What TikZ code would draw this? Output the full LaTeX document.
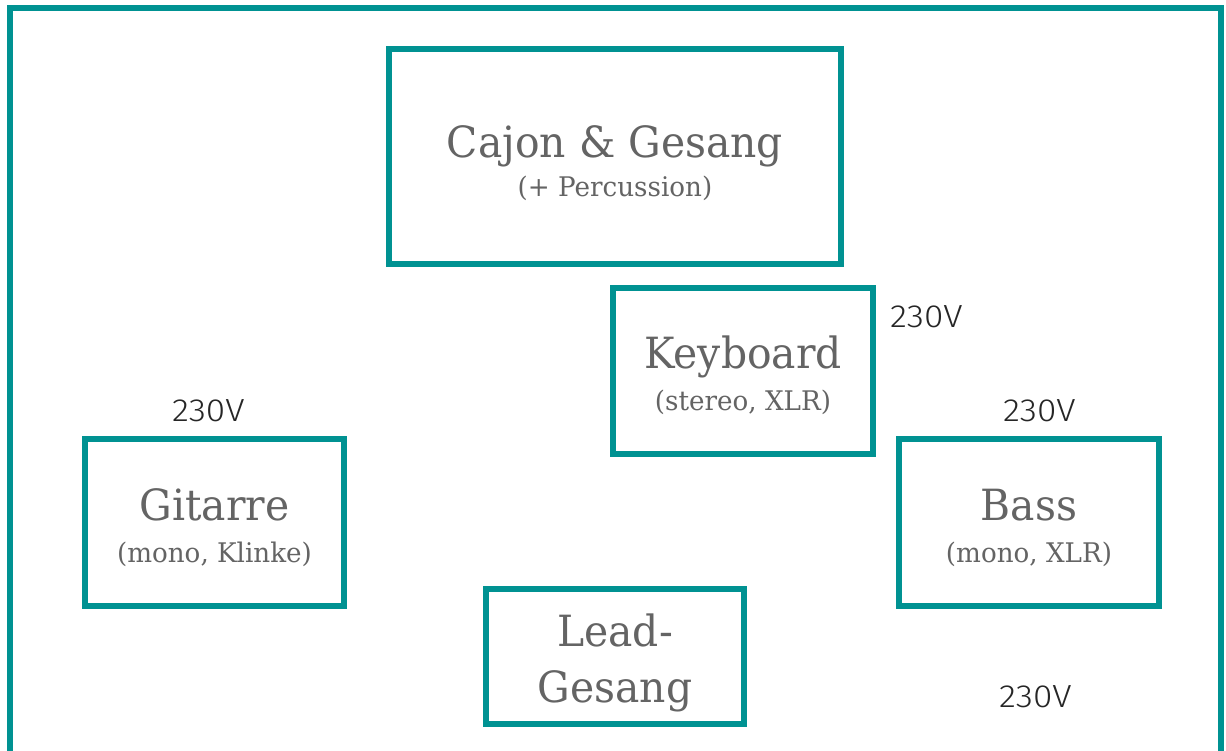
\documentclass[tikz,border=0pt]{standalone}
\usepackage{fontspec}
\setmainfont{DejaVu Serif}[FakeStretch=0.95]
\newfontfamily\subfont{DejaVu Serif}[FakeStretch=0.97]
\newfontfamily\thinfont{Fira Sans Light}[FakeStretch=1.1]
\definecolor{teal}{RGB}{0,146,146}
\definecolor{txt}{RGB}{100,100,100}
\begin{document}
\begin{tikzpicture}[x=1pt,y=-1pt,
  box/.style={draw=teal,line width=5.3pt,rectangle,inner sep=0pt},
  bigt/.style={font=\fontsize{43}{48}\selectfont,text=txt,inner sep=0pt,anchor=base},
  smallt/.style={font=\subfont\fontsize{27}{30}\selectfont,text=txt,inner sep=0pt,anchor=base},
  volt/.style={font=\thinfont\fontsize{32}{34}\selectfont,text=black!85,inner sep=0pt,anchor=base west},
]
\useasboundingbox (0,0) rectangle (1226,750);
\fill[white] (0,0) rectangle (1226,750);
\draw[teal,line width=6pt] (9.5,770) -- (9.5,7.5) -- (1220.5,7.5) -- (1220.5,770);
\node[box,minimum width=452pt,minimum height=215pt] (cajon) at (615,156.5) {};
\node[bigt] (cajonA) at (615,157) {Cajon \& Gesang};
\node[smallt] (cajonB) at (615,196) {(+ Percussion)};
\node[box,minimum width=260pt,minimum height=166pt] (key) at (743,371) {};
\node[bigt] (keyA) at (743,368) {Keyboard};
\node[smallt] (keyB) at (743,410.5) {(stereo, XLR)};
\node[box,minimum width=259pt,minimum height=167pt] (git) at (214.5,522.5) {};
\node[bigt] (gitA) at (214.5,520.5) {Gitarre};
\node[smallt] (gitB) at (214.5,562.5) {(mono, Klinke)};
\node[box,minimum width=260pt,minimum height=167pt] (bass) at (1029,522.5) {};
\node[bigt] (bassA) at (1029,520.5) {Bass};
\node[smallt] (bassB) at (1029,562.5) {(mono, XLR)};
\node[box,minimum width=258pt,minimum height=135pt] (lead) at (615,656.5) {};
\node[bigt] (leadA) at (615,646) {Lead-};
\node[bigt] (leadB) at (615,702) {Gesang};
\node[volt] (v1) at (890,327.5) {230V};
\node[volt] (v2) at (172,421) {230V};
\node[volt] (v3) at (1003,421) {230V};
\node[volt] (v4) at (999,707) {230V};
\end{tikzpicture}
\end{document}
